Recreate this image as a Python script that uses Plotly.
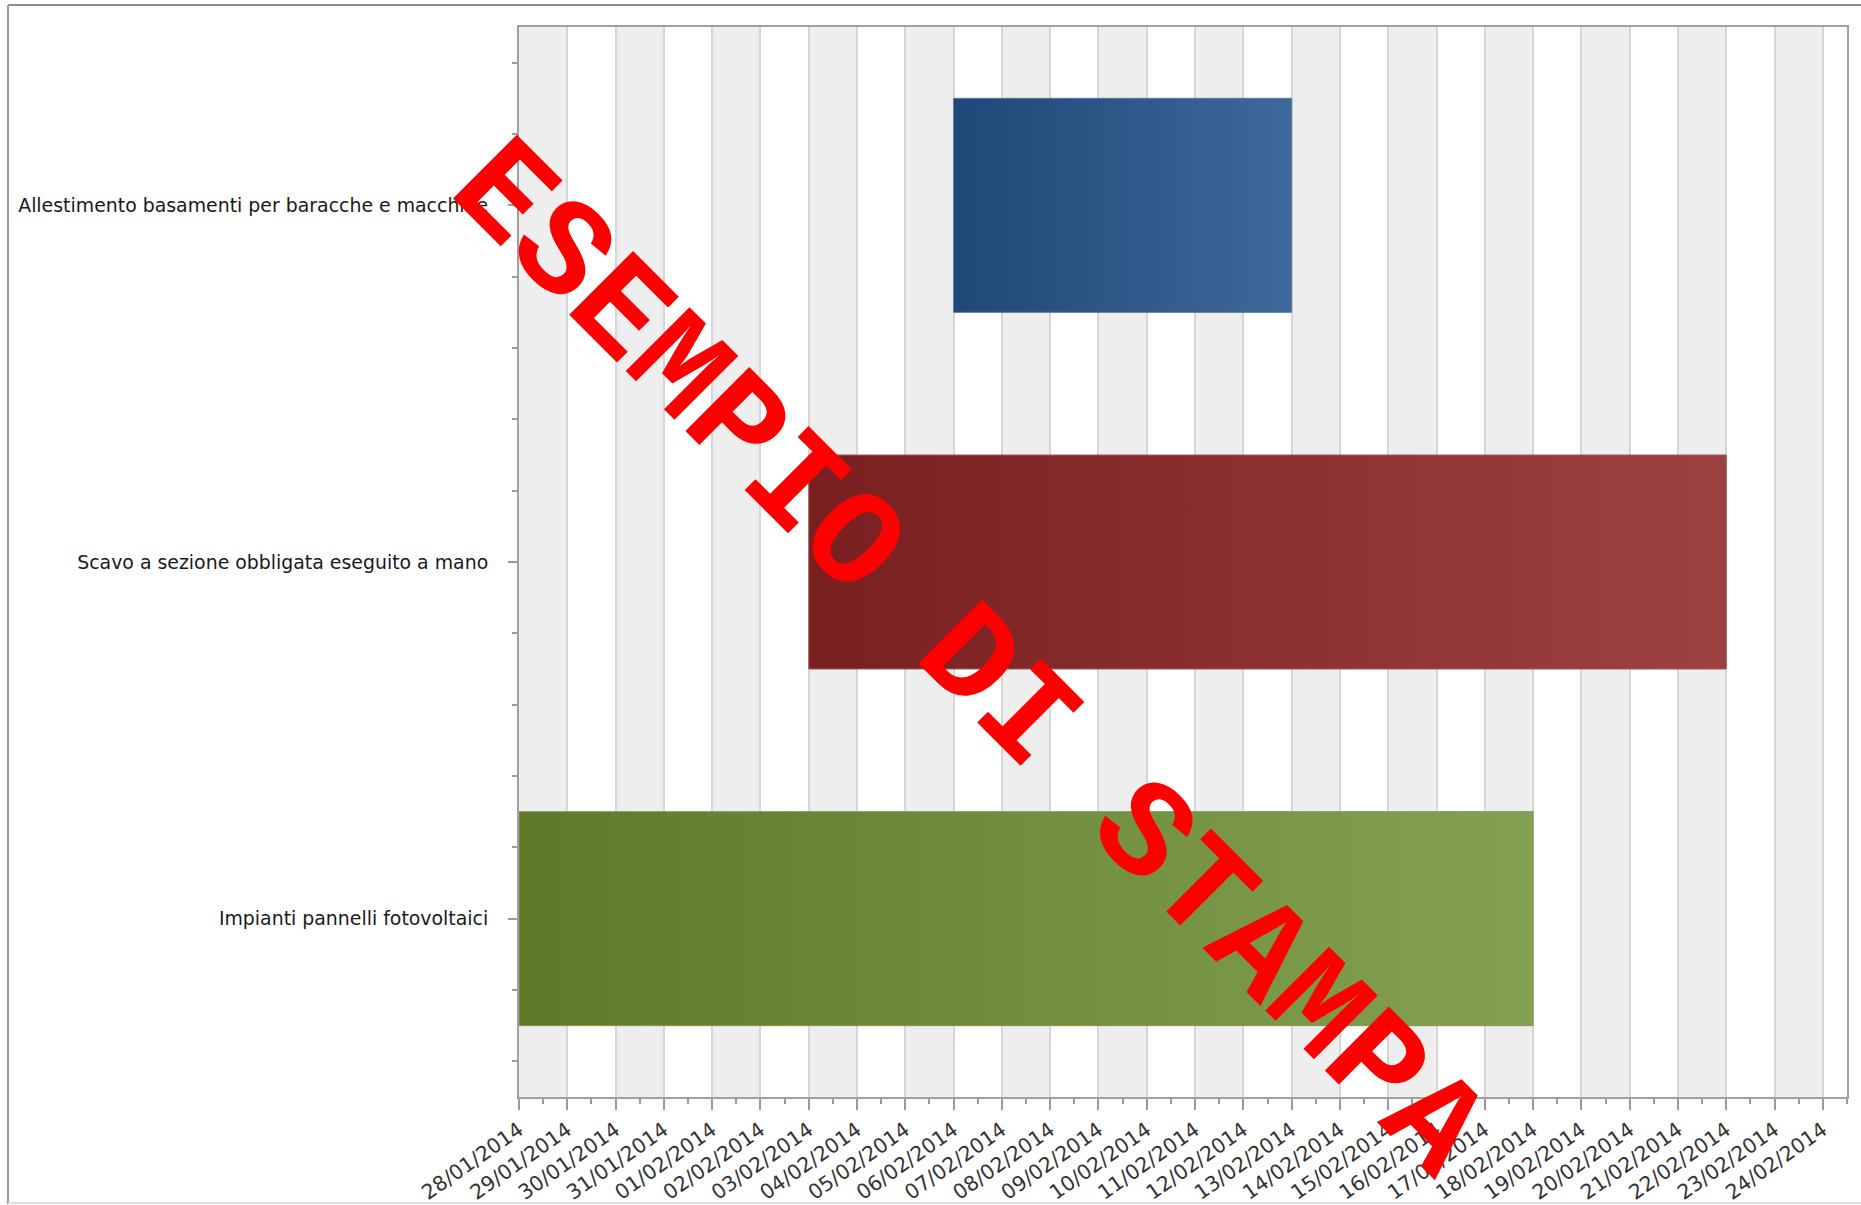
import numpy as np
import pandas as pd
import plotly.graph_objects as go

# ---- data ----
tasks = [
    "Allestimento basamenti per baracche e macchine",
    "Scavo a sezione obbligata eseguito a mano",
    "Impianti pannelli fotovoltaici",
]
start_dates = ["2014-02-06", "2014-02-03", "2014-01-28"]
end_dates = ["2014-02-13", "2014-02-22", "2014-02-18"]
colors_dark = ["#1F4777", "#7A1F1F", "#5E7A28"]
colors_light = ["#3E699B", "#9D4141", "#84A152"]
edge_colors = ["#5A789E", "#A05A5A", "#7E9858"]
axis_start = "2014-01-28"
axis_last_day = "2014-02-24"
axis_end = "2014-02-24 12:00"
watermark = "ESEMPIO DI STAMPA"

W, H = 1861, 1205
ML, MR, MT, MB = 519, 14, 27, 108

fig = go.Figure()

half = 0.3
for i, (t, s, e) in enumerate(zip(tasks, start_dates, end_dates)):
    fig.add_trace(go.Scatter(
        x=[s, e, e, s, s],
        y=[i - half, i - half, i + half, i + half, i - half],
        mode="lines",
        fill="toself",
        fillgradient=dict(type="horizontal",
                          colorscale=[[0, colors_dark[i]], [1, colors_light[i]]]),
        line=dict(color=edge_colors[i], width=1),
        name=t,
        hoverinfo="name",
        showlegend=False,
    ))

# alternating day bands
days = pd.date_range(axis_start, axis_last_day, freq="D")
shapes = []
for k in range(0, len(days) - 1, 2):
    shapes.append(dict(type="rect", xref="x", yref="paper",
                       x0=days[k], x1=days[k] + pd.Timedelta(days=1),
                       y0=0, y1=1, fillcolor="#EEEEEE", line=dict(width=0),
                       layer="below"))

# outer frame of the picture
pw = W - ML - MR
ph = H - MT - MB
def px(x):
    return (x - ML) / pw
def py(y):
    return (H - MB - y) / ph
shapes.append(dict(type="line", xref="paper", yref="paper",
                   x0=px(8), x1=px(W + 5), y0=py(5), y1=py(5),
                   line=dict(color="#8C8C8C", width=2)))
shapes.append(dict(type="line", xref="paper", yref="paper",
                   x0=px(8), x1=px(8), y0=py(5), y1=py(1204),
                   line=dict(color="#9A9A9A", width=2)))
shapes.append(dict(type="line", xref="paper", yref="paper",
                   x0=px(8), x1=px(W + 5), y0=py(1203), y1=py(1203),
                   line=dict(color="#DDDDDD", width=2)))

fig.update_layout(
    width=W, height=H,
    margin=dict(l=ML, r=MR, t=MT, b=MB, autoexpand=False),
    paper_bgcolor="white",
    plot_bgcolor="white",
    shapes=shapes,
    showlegend=False,
    xaxis=dict(
        type="date",
        automargin=False,
        range=[axis_start, axis_end],
        tick0=axis_start,
        dtick=86400000,
        tickformat="%d/%m/%Y",
        tickangle=-35,
        ticks="outside",
        ticklen=11,
        tickwidth=2,
        tickcolor="#9A9A9A",
        showline=True,
        linecolor="#A0A0A0",
        linewidth=2,
        mirror=True,
        showgrid=True,
        gridcolor="#D6D6D6",
        gridwidth=2,
        zeroline=False,
        minor=dict(ticks="outside", ticklen=5, tickwidth=2, tickcolor="#9A9A9A",
                   dtick=43200000, showgrid=False),
        tickfont=dict(family="DejaVu Sans", size=20.5, color="#333333"),
    ),
    yaxis=dict(
        automargin=False,
        range=[2.5, -0.5],
        tickmode="array",
        tickvals=list(range(len(tasks))),
        ticktext=tasks,
        ticks="outside",
        ticklen=9,
        tickwidth=2,
        tickcolor="#9A9A9A",
        showline=True,
        linecolor="#A0A0A0",
        linewidth=2,
        mirror=True,
        showgrid=False,
        zeroline=False,
        ticklabelstandoff=16,
        minor=dict(ticks="outside", ticklen=5, tickwidth=2, tickcolor="#9A9A9A",
                   tickmode="array",
                   tickvals=[round(v, 2) for v in np.arange(-0.4, 2.41, 0.2)],
                   showgrid=False),
        tickfont=dict(family="DejaVu Sans", size=18.9, color="#1A1A1A"),
    ),
    annotations=[dict(
        text=watermark,
        xref="paper", yref="paper",
        x=px(967), y=py(660),
        xanchor="center", yanchor="middle",
        showarrow=False,
        textangle=45,
        font=dict(family="Liberation Mono", size=137, color="#FF0000", weight="bold"),
    )],
)

fig.write_html("out.html")
